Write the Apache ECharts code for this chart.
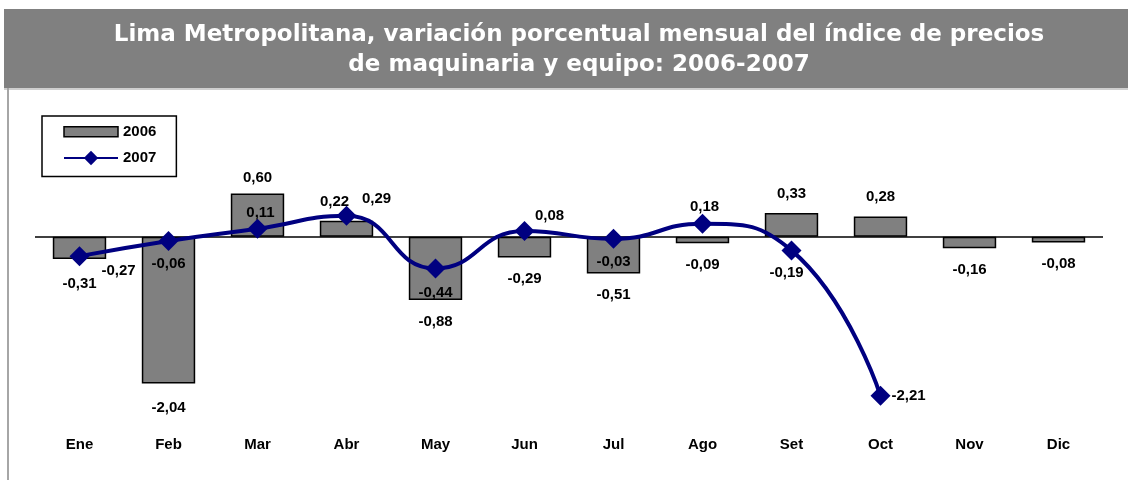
<!DOCTYPE html>
<html>
<head>
<meta charset="utf-8">
<title>Índice de precios de maquinaria y equipo</title>
<script src="https://cdn.jsdelivr.net/npm/echarts@6/dist/echarts.min.js"></script>
<style>
  html, body { margin: 0; padding: 0; background: #ffffff; }
  #chart { width: 1128px; height: 480px; }
</style>
</head>
<body>
<div id="chart"></div>
<script>
// Meses (eje de categorías)
const months = ['Ene', 'Feb', 'Mar', 'Abr', 'May', 'Jun', 'Jul', 'Ago', 'Set', 'Oct', 'Nov', 'Dic'];

// Variación porcentual mensual 2006 (barras)
const values2006 = [-0.31, -2.04, 0.60, 0.22, -0.88, -0.29, -0.51, -0.09, 0.33, 0.28, -0.16, -0.08];

// Variación porcentual mensual 2007 (línea, enero a octubre)
const values2007 = [-0.27, -0.06, 0.11, 0.29, -0.44, 0.08, -0.03, 0.18, -0.19, -2.21];

const seriesNames = ['2006', '2007'];

const titleText = 'Lima Metropolitana, variación porcentual mensual del índice de precios\nde maquinaria y equipo: 2006-2007';

const TITLE_FONT = '"DejaVu Sans", Verdana, sans-serif';
const FONT = '"Liberation Sans", Arial, sans-serif';
const fmt = v => v.toFixed(2).replace('.', ',');

// Desplazamiento de las etiquetas de la línea respecto a cada marcador
const lineLabelOffsets = [
  [39, 15], [0, 23], [3, -16], [30, -17], [0, 24],
  [25, -15], [0, 23], [2, -17], [-5, 22], [28, 0]
];

// Ajustes finos de algunas etiquetas de las barras
const barLabelOffsets = { 0: [0, 3], 1: [0, 3], 2: [0, 4], 3: [-12, 0] };

const barData = values2006.map((v, i) => ({
  value: v,
  label: {
    position: v >= 0 ? 'top' : 'bottom',
    distance: v >= 0 ? 12 : 14,
    offset: barLabelOffsets[i] || [0, 0]
  }
}));

const lineData = values2007.map((v, i) => ({
  value: v,
  label: { position: 'inside', offset: lineLabelOffsets[i] }
}));

const chart = echarts.init(document.getElementById('chart'), null, { renderer: 'canvas' });

chart.setOption({
  animation: false,
  backgroundColor: '#ffffff',
  graphic: [
    { type: 'rect', z: -10, shape: { x: 4, y: 9, width: 1124, height: 79 }, style: { fill: '#808080' } },
    { type: 'rect', z: -10, shape: { x: 4, y: 88, width: 1124, height: 2 }, style: { fill: '#cfcfcf' } },
    { type: 'rect', z: -10, shape: { x: 7, y: 88, width: 2, height: 392 }, style: { fill: '#a6a6a6' } }
  ],
  title: {
    text: titleText,
    left: 579,
    top: 20,
    textAlign: 'center',
    padding: 0,
    textStyle: {
      color: '#ffffff',
      fontFamily: TITLE_FONT,
      fontSize: 23,
      fontWeight: 'bold',
      lineHeight: 30
    }
  },
  legend: {
    orient: 'vertical',
    left: 42,
    top: 116,
    borderColor: '#000000',
    borderWidth: 1.5,
    padding: [6, 20, 11, 21],
    itemGap: 9,
    itemWidth: 54,
    itemHeight: 18,
    textStyle: { color: '#000000', fontFamily: FONT, fontSize: 15, fontWeight: 'bold' },
    data: [
      {
        name: seriesNames[0],
        icon: 'path://M0,0M54,18M0,4L54,4L54,14L0,14Z',
        itemStyle: { color: '#808080', borderColor: '#000000', borderWidth: 1.5 }
      },
      { name: seriesNames[1] }
    ]
  },
  grid: { left: 35, right: 25, top: 128.7, bottom: 63.3 },
  xAxis: {
    type: 'category',
    data: months,
    boundaryGap: true,
    axisLine: { show: false },
    axisTick: { show: false },
    splitLine: { show: false },
    axisLabel: {
      margin: 21,
      color: '#000000',
      fontFamily: FONT,
      fontSize: 15,
      fontWeight: 'bold'
    }
  },
  yAxis: {
    type: 'value',
    min: -2.5,
    max: 1.5,
    show: false
  },
  series: [
    {
      name: seriesNames[0],
      type: 'bar',
      barWidth: '60%',
      data: barData,
      itemStyle: { color: '#808080', borderColor: '#000000', borderWidth: 1.5 },
      label: {
        show: true,
        color: '#000000',
        fontFamily: FONT,
        fontSize: 15,
        fontWeight: 'bold',
        formatter: p => fmt(p.value)
      },
      markLine: {
        silent: true,
        symbol: 'none',
        label: { show: false },
        lineStyle: { color: '#000000', width: 1.5, type: 'solid' },
        data: [{ yAxis: 0 }]
      },
      z: 2
    },
    {
      name: seriesNames[1],
      type: 'line',
      data: lineData,
      smooth: 0.5,
      symbol: 'diamond',
      symbolSize: 20,
      lineStyle: { color: '#000080', width: 4 },
      itemStyle: { color: '#000080' },
      label: {
        show: true,
        color: '#000000',
        fontFamily: FONT,
        fontSize: 15,
        fontWeight: 'bold',
        formatter: p => fmt(p.value)
      },
      z: 5
    }
  ]
});
</script>
</body>
</html>
